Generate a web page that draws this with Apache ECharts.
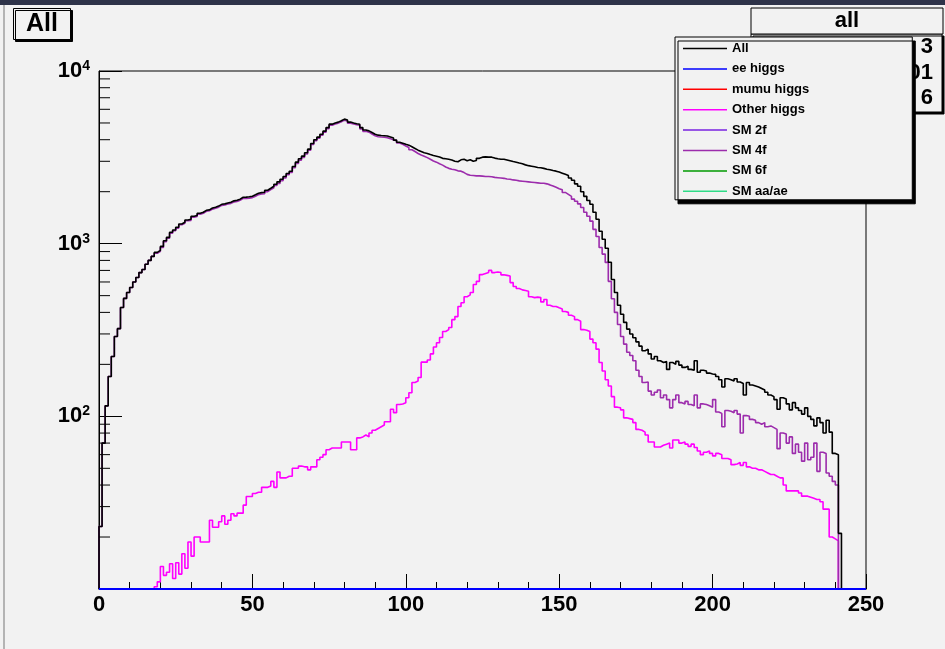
<!DOCTYPE html>
<html>
<head>
<meta charset="utf-8">
<script src="https://cdn.jsdelivr.net/npm/echarts@6/dist/echarts.min.js"></script>
<style>
  html, body { margin: 0; padding: 0; background: #f2f2f2; }
  #chart { width: 945px; height: 649px; }
</style>
</head>
<body>
<div id="chart"></div>
<script>
// histogram contents, one value per 1-unit bin starting at x = 0
const allHist = [
  23, 70, 115, 170, 222, 290, 322, 427, 482, 521,
  557, 600, 637, 680, 709, 760, 800, 844, 890, 914,
  964, 1040, 1088, 1164, 1200, 1245, 1300, 1330, 1370, 1384,
  1440, 1455, 1500, 1520, 1560, 1570, 1610, 1625, 1650, 1690,
  1700, 1720, 1737, 1770, 1783, 1810, 1857, 1860, 1870, 1882,
  1920, 1960, 1975, 1986, 2040, 2094, 2150, 2209, 2280, 2361,
  2450, 2550, 2628, 2800, 2965, 3100, 3212, 3360, 3526, 3800,
  4000, 4140, 4300, 4484, 4700, 4924, 5000, 5057, 5150, 5263,
  5200, 5060, 5000, 4950, 4920, 4700, 4550, 4500, 4400, 4300,
  4250, 4230, 4220, 4200, 4150, 4090, 3980, 3870, 3820, 3760,
  3720, 3640, 3560, 3480, 3420, 3360, 3330, 3280, 3240, 3212,
  3180, 3120, 3100, 3080, 3050, 3000, 2980, 3060, 3080, 3020,
  3060, 3000, 3030, 3120, 3170, 3180, 3170, 3170, 3130, 3100,
  3080, 3080, 3050, 3020, 2990, 2965, 2930, 2900, 2860, 2830,
  2810, 2790, 2760, 2750, 2730, 2700, 2680, 2650, 2630, 2600,
  2560, 2520, 2480, 2400, 2330, 2220, 2150, 2000, 1880, 1780,
  1690, 1520, 1384, 1180, 1060, 940, 780, 620, 521, 440,
  390, 350, 320, 300, 285, 270, 255, 240, 245, 230,
  215, 222, 210, 205, 208, 187, 205, 200, 208, 198,
  192, 195, 187, 185, 210, 180, 185, 183, 178, 176,
  175, 170, 163, 148, 165, 163, 160, 165, 158, 155,
  133, 157, 152, 150, 148, 145, 142, 138, 133, 130,
  125, 110, 128, 126, 118, 109, 120, 112, 108, 103,
  112, 100, 96, 88, 98, 92, 80, 95, 81, 61,
  60, 21
];

const sm4f = [
  23, 70, 115, 170, 222, 290, 322, 427, 482, 521,
  557, 600, 637, 680, 709, 760, 800, 844, 880, 903,
  951, 1028, 1076, 1150, 1189, 1231, 1288, 1314, 1357, 1365,
  1425, 1435, 1480, 1501, 1541, 1551, 1585, 1602, 1627, 1666,
  1674, 1696, 1712, 1743, 1757, 1783, 1830, 1829, 1836, 1848,
  1884, 1924, 1939, 1947, 2001, 2054, 2108, 2170, 2232, 2317,
  2406, 2505, 2583, 2750, 2915, 3048, 3161, 3309, 3477, 3749,
  3949, 4084, 4242, 4424, 4636, 4858, 4934, 4991, 5084, 5192,
  5129, 4989, 4936, 4886, 4845, 4624, 4472, 4424, 4320, 4217,
  4165, 4143, 4131, 4107, 4057, 3980, 3950, 3830, 3760, 3680,
  3610, 3500, 3420, 3330, 3260, 3212, 3150, 3080, 3010, 2965,
  2900, 2850, 2780, 2730, 2700, 2680, 2640, 2630, 2580, 2520,
  2490, 2480, 2470, 2470, 2460, 2450, 2450, 2440, 2420, 2410,
  2400, 2390, 2370, 2360, 2340, 2330, 2310, 2300, 2290, 2280,
  2270, 2260, 2250, 2240, 2240, 2220, 2190, 2160, 2120, 2080,
  2050, 1980, 1930, 1880, 1810, 1760, 1700, 1620, 1520, 1440,
  1350, 1210, 1100, 950, 870, 779, 605, 480, 400, 340,
  290, 262, 235, 225, 210, 185, 170, 157, 158, 140,
  133, 138, 142, 128, 133, 125, 112, 125, 133, 120,
  118, 122, 117, 115, 133, 112, 118, 117, 115, 113,
  125, 106, 104, 87, 108, 107, 105, 108, 103, 80,
  101, 100, 96, 95, 92, 90, 92, 87, 88, 86,
  84, 65, 80, 79, 70, 76, 61, 69, 62, 55,
  70, 56, 58, 70, 48, 62, 61, 47, 45, 42,
  40, 0
];

const otherHiggs = [
  0, 0, 0, 0, 0, 0, 0, 0, 0, 0,
  0, 0, 0, 0, 0, 0, 0, 0, 10.3, 11,
  13.5, 12, 12.5, 14, 11.5, 14.2, 12.2, 16, 13.2, 18.7,
  15.5, 20, 20, 18.7, 18.7, 18.7, 25, 22.8, 22.8, 24.5,
  26.5, 23.7, 25, 27.3, 26.5, 27.5, 27.5, 30.6, 34.3, 34.3,
  35.7, 36.3, 36.3, 38.8, 38.8, 39.5, 42, 38.8, 47.6, 44,
  44, 45, 45, 50, 50, 51.5, 51, 51, 49, 51,
  51, 56, 58, 60, 64, 65.5, 65.5, 65.5, 65.5, 71,
  71, 71, 64, 64, 75, 76, 78, 76, 80, 83,
  85, 87, 89, 93, 93, 110, 105, 117, 118, 120,
  128, 137, 157, 160, 168, 206, 206, 212, 230, 252,
  267, 286, 310, 318, 327, 363, 378, 433, 455, 493,
  505, 521, 580, 605, 662, 671, 680, 700, 680, 685,
  680, 660, 655, 650, 595, 565, 550, 540, 535, 530,
  493, 487, 490, 487, 460, 475, 440, 433, 433, 425,
  418, 405, 400, 385, 378, 363, 355, 318, 315, 310,
  280, 267, 245, 205, 183, 163, 150, 130, 113, 112,
  109, 98, 97, 96, 92, 84, 83, 81, 78, 71,
  71, 66.5, 66.5, 68, 69, 70, 65.5, 73, 73, 70,
  71, 69, 67, 69, 66, 63, 60, 62, 63, 61,
  59, 61, 60, 57, 57, 56, 52.5, 53, 54, 52,
  54, 51, 50, 50, 49, 49, 48, 47, 46, 46,
  45, 44, 44, 40, 37, 37, 37, 37, 36, 34.5,
  34.5, 34, 33.5, 33, 33, 32, 29, 29, 20, 19.5,
  19, 0
];

// the samples with no entries (drawn on the bottom edge, like ROOT does)
const emptyHist = new Array(250).fill(0);

const legendNames = ['All', 'ee higgs', 'mumu higgs', 'Other higgs', 'SM 2f', 'SM 4f', 'SM 6f', 'SM aa/ae'];
const xTicks = { min: 0, max: 250, step: 50 };
const yRange = { min: 10, max: 10000 };
const yMinorTicks = [20, 30, 40, 50, 60, 70, 80, 90,
  200, 300, 400, 500, 600, 700, 800, 900,
  2000, 3000, 4000, 5000, 6000, 7000, 8000, 9000];
const statsLines = ['3', '01', '6'];

const FONT = 'Liberation Sans';

// bins -> step points, empty bins sit on the axis minimum
function histData(vals) {
  const d = [[0, yRange.min]];
  vals.forEach(function (v, i) { d.push([i, Math.max(v, yRange.min)]); });
  d.push([vals.length, yRange.min]);
  return d;
}

function histSeries(name, vals, color, z, width) {
  return {
    name: name,
    type: 'line',
    step: 'end',
    symbol: 'none',
    clip: false,
    z: z,
    color: color,
    lineStyle: { color: color, width: width || 1.6 },
    data: histData(vals)
  };
}

var myChart = echarts.init(document.getElementById('chart'));

const option = {
  backgroundColor: '#f2f2f2',
  animation: false,
  title: {
    text: 'All',
    left: 13,
    top: 8,
    padding: [3, 13, 3, 13],
    backgroundColor: '#f2f2f2',
    borderColor: '#000',
    borderWidth: 1,
    shadowColor: '#000',
    shadowBlur: 0.1,
    shadowOffsetX: 2,
    shadowOffsetY: 2,
    textStyle: { fontFamily: FONT, fontSize: 25, fontWeight: 'bold', color: '#000', lineHeight: 26 }
  },
  legend: {
    data: legendNames,
    orient: 'vertical',
    left: 675,
    top: 37,
    icon: 'rect',
    itemWidth: 44,
    itemHeight: 1.5,
    itemGap: 7.4,
    padding: [5, 103, 2, 8],
    backgroundColor: '#f2f2f2',
    borderColor: '#000',
    borderWidth: 1,
    shadowColor: '#000',
    shadowBlur: 0.1,
    shadowOffsetX: 3,
    shadowOffsetY: 4,
    selectedMode: false,
    z: 10,
    textStyle: { fontFamily: FONT, fontSize: 13, fontWeight: 'bold', color: '#000' }
  },
  grid: {
    left: 99,
    top: 71,
    width: 767,
    height: 518,
    show: true,
    borderColor: '#000',
    borderWidth: 1,
    backgroundColor: 'transparent'
  },
  xAxis: {
    type: 'value',
    min: xTicks.min,
    max: xTicks.max,
    interval: xTicks.step,
    axisLine: { show: true, lineStyle: { color: '#000' } },
    axisTick: { inside: true, length: 15, lineStyle: { color: '#000' } },
    minorTick: { show: true, splitNumber: 5, length: 7, lineStyle: { color: '#000' } },
    splitLine: { show: false },
    axisLabel: { margin: 5, fontFamily: FONT, fontSize: 22, fontWeight: 'bold', color: '#000' }
  },
  yAxis: {
    type: 'log',
    logBase: 10,
    min: yRange.min,
    max: yRange.max,
    axisLine: { show: true, lineStyle: { color: '#000' } },
    axisTick: { inside: true, length: 23, lineStyle: { color: '#000' } },
    splitLine: { show: false },
    axisLabel: {
      showMinLabel: false,
      margin: 9,
      formatter: function (v) {
        return '{a|10}{b|' + Math.round(Math.log10(v)) + '}';
      },
      rich: {
        a: { fontFamily: FONT, fontSize: 22, fontWeight: 'bold', color: '#000', lineHeight: 24 },
        b: { fontFamily: FONT, fontSize: 14, fontWeight: 'bold', color: '#000', lineHeight: 14, verticalAlign: 'top' }
      }
    }
  },
  graphic: [
    // window strip and left edge of the canvas
    { type: 'rect', z: 1, shape: { x: 0, y: 0, width: 945, height: 5 }, style: { fill: '#2e3349' } },
    { type: 'rect', z: 1, shape: { x: 3, y: 5, width: 2, height: 644 }, style: { fill: '#b4b4b4' } },
    // stats box, mostly hidden behind the legend
    { type: 'rect', z: 1, shape: { x: 751, y: 34, width: 191, height: 78 },
      style: { fill: '#f2f2f2', stroke: '#000', lineWidth: 1, shadowColor: '#000', shadowBlur: 0.1, shadowOffsetX: 2, shadowOffsetY: 2 } },
    { type: 'rect', z: 1, shape: { x: 751, y: 8, width: 192, height: 26 },
      style: { fill: '#f2f2f2', stroke: '#000', lineWidth: 1 } },
    { type: 'text', z: 2, x: 847, y: 21,
      style: { text: 'all', font: 'bold 22px "Liberation Sans"', fill: '#000', textAlign: 'center', textVerticalAlign: 'middle' } }
  ].concat(statsLines.map(function (s, i) {
    return { type: 'text', z: 2, x: 933, y: 47 + i * 25.5,
      style: { text: s, font: 'bold 22px "Liberation Sans"', fill: '#000', textAlign: 'right', textVerticalAlign: 'middle' } };
  })),
  series: [
    histSeries('mumu higgs', emptyHist, '#ff0000', 2),
    histSeries('SM 2f', emptyHist, '#7a22e0', 2),
    histSeries('SM 6f', emptyHist, '#009a00', 2),
    histSeries('SM aa/ae', emptyHist, '#30dc88', 2),
    histSeries('Other higgs', otherHiggs, '#ff00ff', 3),
    histSeries('SM 4f', sm4f, '#9c2cac', 4),
    histSeries('All', allHist, '#000000', 5),
    histSeries('ee higgs', emptyHist, '#0000ff', 6, 2),
    {
      // minor ticks of the log axis (2..9 in each decade)
      type: 'custom',
      silent: true,
      clip: false,
      z: 7,
      data: yMinorTicks.map(function (v) { return [xTicks.min, v]; }),
      renderItem: function (params, api) {
        var p = api.coord([api.value(0), api.value(1)]);
        return {
          type: 'line',
          shape: { x1: p[0], y1: p[1], x2: p[0] + 11, y2: p[1] },
          style: { stroke: '#000', lineWidth: 1 }
        };
      }
    }
  ]
};

option && myChart.setOption(option);

window.addEventListener('resize', function () {
  myChart.resize();
});
</script>
</body>
</html>
